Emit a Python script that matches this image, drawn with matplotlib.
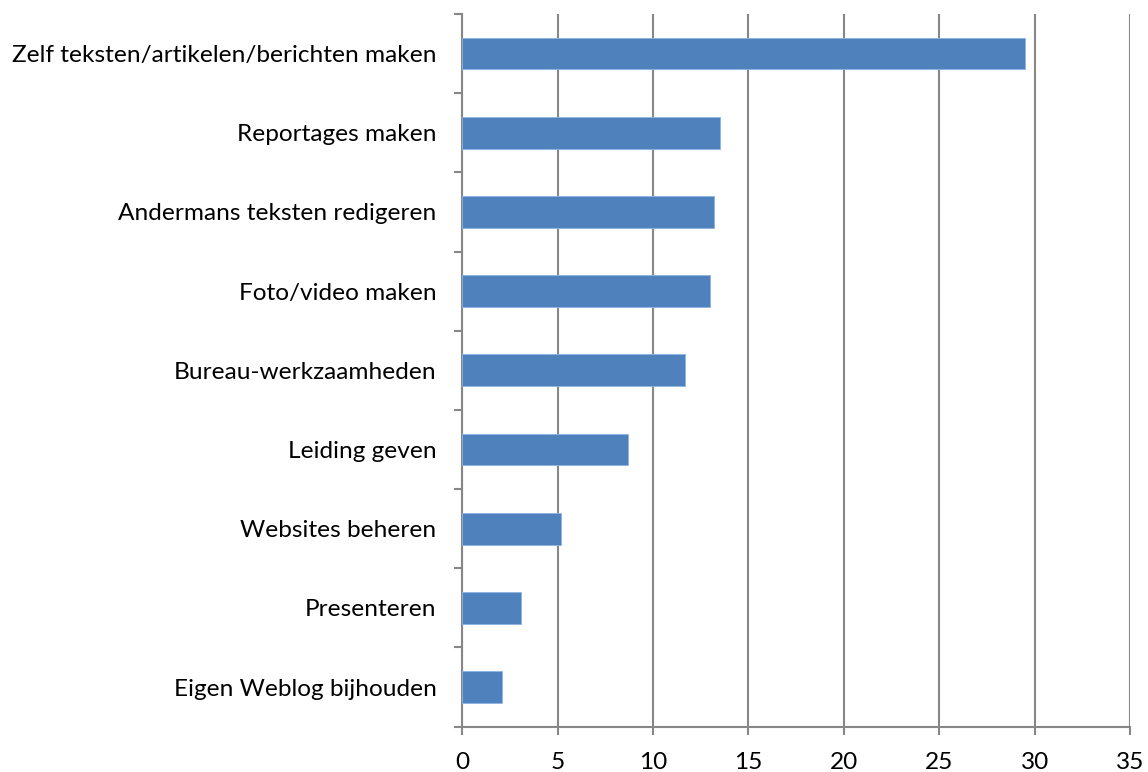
import matplotlib.pyplot as plt
import numpy as np

categories = ['Zelf teksten/artikelen/berichten maken', 'Reportages maken',
              'Andermans teksten redigeren', 'Foto/video maken',
              'Bureau-werkzaamheden', 'Leiding geven', 'Websites beheren',
              'Presenteren', 'Eigen Weblog bijhouden']
values = [29.5, 13.5, 13.2, 13.0, 11.7, 8.7, 5.2, 3.1, 2.1]
xticks = [0, 5, 10, 15, 20, 25, 30, 35]

plt.rcParams['font.family'] = ['Lato', 'DejaVu Sans']

fig = plt.figure(figsize=(11.48, 7.72), dpi=100)
ax = fig.add_axes([0.4027, 0.0587, 0.9843 - 0.4027, 0.9819 - 0.0587])

n = len(categories)
pos = np.arange(n)[::-1]
ax.barh(pos, values, height=0.4, color='#4F81BD', edgecolor='#8EB4E3', linewidth=0.6, zorder=3)

ax.set_xlim(0, 35)
ax.set_ylim(-0.5, n - 0.5)
ax.set_xticks(xticks)
ax.xaxis.grid(True, color='#878787', linewidth=1.5, zorder=0)

# category labels between boundary ticks, like Excel
ax.set_yticks(np.arange(n + 1) - 0.5)
ax.set_yticklabels([])
ax.set_yticks(pos, minor=True)
ax.set_yticklabels(categories, minor=True, fontsize=17.6)
ax.tick_params(axis='y', which='minor', length=0, pad=18.5)
ax.tick_params(axis='y', which='major', length=6, color='#878787', width=1.5)
ax.tick_params(axis='x', length=6, color='#878787', width=1.5, labelsize=17.6, pad=12)

for s in ['top', 'right']:
    ax.spines[s].set_visible(False)
for s in ['left', 'bottom']:
    ax.spines[s].set_color('#878787')
    ax.spines[s].set_linewidth(1.5)

plt.savefig('out.png', dpi=100)
